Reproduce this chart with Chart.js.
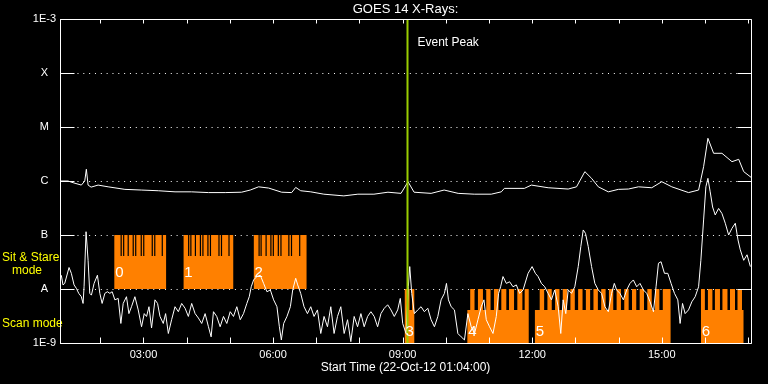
<!DOCTYPE html>
<html>
<head>
<meta charset="utf-8">
<script src="https://cdn.jsdelivr.net/npm/chart.js@4.4.0/dist/chart.umd.min.js"></script>
<style>
html,body{margin:0;padding:0;background:#000;overflow:hidden;}
#c{display:block;}
</style>
</head>
<body>
<canvas id="c" width="768" height="384"></canvas>
<script>
// ---------- DATA (hours of day, 22-Oct-2012; flux in W/m^2) ----------
const startHour = 1 + 4 / 60;            // 01:04:00
const endHour = startHour + 16;
const eventPeakHour = 9.113;

const yTickValues = [1e-9, 1e-8, 1e-7, 1e-6, 1e-5, 1e-4, 1e-3];
const yTickLabels = ['1E-9', 'A', 'B', 'C', 'M', 'X', '1E-3'];
const xTickHours = [2, 3, 4, 5, 6, 7, 8, 9, 10, 11, 12, 13, 14, 15, 16, 17];
const xLabelHours = [3, 6, 9, 12, 15];

// GOES 14 long channel (1-8 A)
const longChannel = [
 [1.067,1.0e-6],[1.252,1.0e-6],[1.369,0.93e-6],[1.561,0.84e-6],[1.640,1.0e-6],[1.677,1.65e-6],
 [1.717,0.84e-6],[1.787,0.77e-6],[1.949,0.84e-6],[2.181,0.78e-6],[2.569,0.70e-6],[2.948,0.68e-6],
 [3.343,0.66e-6],[3.730,0.63e-6],[4.109,0.63e-6],[4.504,0.61e-6],[4.892,0.61e-6],[5.270,0.62e-6],
 [5.472,0.68e-6],[5.665,0.78e-6],[5.897,0.74e-6],[6.199,0.62e-6],[6.431,0.61e-6],[6.524,0.76e-6],
 [6.640,0.66e-6],[6.873,0.63e-6],[7.175,0.57e-6],[7.639,0.53e-6],[7.964,0.57e-6],[8.336,0.57e-6],
 [8.661,0.62e-6],[8.963,0.59e-6],[9.125,0.97e-6],[9.265,0.62e-6],[9.660,0.59e-6],[9.961,0.68e-6],
 [10.286,0.59e-6],[10.658,0.57e-6],[11.053,0.57e-6],[11.285,0.63e-6],[11.355,0.73e-6],[11.819,0.73e-6],
 [11.982,0.84e-6],[12.370,0.75e-6],[12.834,0.71e-6],[13.027,0.78e-6],[13.220,1.49e-6],[13.375,1.12e-6],
 [13.531,0.78e-6],[13.763,0.63e-6],[13.996,0.70e-6],[14.228,0.71e-6],[14.460,0.78e-6],[14.769,0.75e-6],
 [15.001,0.97e-6],[15.233,0.78e-6],[15.621,0.61e-6],[15.853,0.68e-6],[15.969,1.84e-6],[16.069,6.18e-6],
 [16.201,3.26e-6],[16.394,3.26e-6],[16.626,2.28e-6],[16.782,2.52e-6],[16.898,1.49e-6],[17.068,1.17e-6]
];

// GOES 14 short channel (0.5-4 A)
const shortChannel = [
 [1.097,1.8e-8],[1.136,1.19e-8],[1.176,1.27e-8],[1.276,2.5e-8],[1.329,1.95e-8],[1.392,1.19e-8],
 [1.445,1.03e-8],[1.501,8.3e-9],[1.561,7.2e-9],[1.601,5.4e-9],[1.624,1.10e-8],[1.670,1.15e-7],
 [1.717,3.4e-8],[1.756,8.3e-9],[1.794,7.7e-9],[1.856,1.27e-8],[1.933,1.8e-8],[1.989,8.3e-9],
 [2.042,5.4e-9],[2.105,8.3e-9],[2.165,8.9e-9],[2.221,8.3e-9],[2.274,8.9e-9],[2.337,6.3e-9],
 [2.414,6.7e-9],[2.476,2.3e-9],[2.530,5.4e-9],[2.606,7.2e-9],[2.662,3.5e-9],[2.722,4.7e-9],
 [2.801,7.2e-9],[2.878,4.1e-9],[2.955,2.0e-9],[3.017,3.5e-9],[3.071,3.1e-9],[3.127,4.7e-9],
 [3.187,1.9e-9],[3.266,6.3e-9],[3.326,5.4e-9],[3.382,3.1e-9],[3.458,2.3e-9],[3.512,3.5e-9],
 [3.575,1.5e-9],[3.651,2.7e-9],[3.730,4.7e-9],[3.807,3.8e-9],[3.884,5.4e-9],[3.963,4.4e-9],
 [4.039,3.1e-9],[4.116,5.4e-9],[4.195,3.5e-9],[4.271,2.9e-9],[4.348,2.3e-9],[4.427,3.5e-9],
 [4.504,2.0e-9],[4.566,1.3e-9],[4.620,3.8e-9],[4.696,3.1e-9],[4.775,2.0e-9],[4.852,3.1e-9],
 [4.929,2.3e-9],[5.008,3.8e-9],[5.084,3.1e-9],[5.161,4.7e-9],[5.240,2.7e-9],[5.316,3.5e-9],
 [5.393,5.4e-9],[5.449,7.2e-9],[5.495,1.10e-8],[5.549,1.47e-8],[5.625,1.7e-8],[5.704,1.8e-8],
 [5.781,1.27e-8],[5.858,8.9e-9],[5.937,9.6e-9],[6.013,6.3e-9],[6.090,4.7e-9],[6.146,2.0e-9],
 [6.192,1.14e-9],[6.246,2.3e-9],[6.322,3.1e-9],[6.401,4.7e-9],[6.455,9.6e-9],[6.524,1.58e-8],
 [6.571,1.19e-8],[6.640,8.3e-9],[6.717,4.7e-9],[6.796,3.5e-9],[6.873,4.7e-9],[6.949,3.1e-9],
 [7.028,4.1e-9],[7.105,1.5e-9],[7.181,3.1e-9],[7.260,2.0e-9],[7.337,4.7e-9],[7.413,1.5e-9],
 [7.492,3.1e-9],[7.569,4.7e-9],[7.646,1.5e-9],[7.725,2.7e-9],[7.801,1.06e-9],[7.878,3.1e-9],
 [7.957,2.0e-9],[8.034,3.5e-9],[8.110,2.0e-9],[8.189,3.1e-9],[8.266,3.8e-9],[8.342,3.1e-9],
 [8.421,2.0e-9],[8.498,3.5e-9],[8.575,4.4e-9],[8.654,5.1e-9],[8.730,4.1e-9],[8.807,3.1e-9],
 [8.886,4.1e-9],[8.946,6.7e-9],[9.002,2.3e-9],[9.079,1.5e-9],[9.132,1.10e-8],[9.165,2.6e-8],
 [9.211,8.3e-9],[9.272,3.5e-9],[9.350,4.1e-9],[9.427,4.7e-9],[9.504,3.8e-9],[9.583,4.4e-9],
 [9.659,2.7e-9],[9.736,2.0e-9],[9.815,3.1e-9],[9.891,6.3e-9],[9.968,8.3e-9],[10.015,1.27e-8],
 [10.061,6.3e-9],[10.124,4.7e-9],[10.200,4.1e-9],[10.279,1.5e-9],[10.356,1.3e-9],[10.432,1.14e-9],
 [10.511,3.5e-9],[10.588,2.0e-9],[10.665,1.5e-9],[10.744,2.7e-9],[10.820,4.7e-9],[10.883,6.3e-9],
 [10.937,2.7e-9],[11.013,2.0e-9],[11.092,1.5e-9],[11.169,3.1e-9],[11.222,8.3e-9],[11.269,1.10e-8],
 [11.324,1.7e-8],[11.401,1.27e-8],[11.478,1.36e-8],[11.556,1.10e-8],[11.633,1.19e-8],[11.710,8.3e-9],
 [11.789,9.6e-9],[11.905,1.95e-8],[11.998,2.6e-8],[12.074,1.95e-8],[12.137,1.7e-8],[12.214,1.27e-8],
 [12.290,1.10e-8],[12.369,8.3e-9],[12.446,6.3e-9],[12.523,9.6e-9],[12.602,4.7e-9],[12.662,1.5e-9],
 [12.717,6.3e-9],[12.778,3.5e-9],[12.834,9.6e-9],[12.910,8.3e-9],[12.987,1.10e-8],[13.066,2.6e-8],
 [13.126,6.1e-8],[13.182,1.24e-7],[13.235,1.07e-7],[13.298,6.1e-8],[13.375,2.6e-8],[13.451,1.27e-8],
 [13.530,9.6e-9],[13.607,8.3e-9],[13.684,4.7e-9],[13.763,3.8e-9],[13.839,8.3e-9],[13.902,1.27e-8],
 [13.955,9.6e-9],[14.032,8.3e-9],[14.111,6.3e-9],[14.188,9.6e-9],[14.264,1.27e-8],[14.343,1.47e-8],
 [14.420,1.10e-8],[14.496,1.27e-8],[14.575,9.6e-9],[14.652,8.3e-9],[14.729,5.8e-9],[14.808,3.8e-9],
 [14.868,1.10e-8],[14.924,3.0e-8],[14.984,3.2e-8],[15.063,1.95e-8],[15.140,1.95e-8],[15.216,1.27e-8],
 [15.295,8.3e-9],[15.372,6.3e-9],[15.425,2.3e-9],[15.481,5.4e-9],[15.541,3.5e-9],[15.620,4.1e-9],
 [15.697,5.8e-9],[15.774,7.2e-9],[15.853,1.10e-8],[15.906,3.4e-8],[15.969,1.9e-7],[16.022,7.8e-7],
 [16.069,1.12e-6],[16.122,6.3e-7],[16.178,3.3e-7],[16.238,2.35e-7],[16.317,3.1e-7],[16.394,2.5e-7],
 [16.471,1.65e-7],[16.549,1.0e-7],[16.626,1.33e-7],[16.703,1.65e-7],[16.766,8.1e-8],[16.819,5.3e-8],
 [16.898,3.4e-8],[16.975,4.3e-8],[17.052,2.6e-8]
];

// Observing blocks (sit & stare / scan), numbered 0..6
const sitStareBlocks = [[2.321, 3.528], [3.923, 5.084], [5.549, 6.780]];
const sitStareNotches = [
 [2.483, 2.541, 2.646, 2.762, 2.820, 2.948, 3.006, 3.203, 3.261, 3.435],
 [4.046, 4.097, 4.202, 4.318, 4.376, 4.492, 4.550, 4.748, 4.806, 4.980],
 [5.677, 5.723, 5.839, 5.950, 6.006, 6.122, 6.183, 6.366, 6.427, 6.617]
];
const sitStareLevels = [1e-8, 4.1e-8, 1e-7];   // base, notch depth, top

const scanBlocks = [[9.044, 9.276], [10.495, 11.923], [12.058, 15.209], [15.906, 16.898]];
const scanTeeth = [
 [[9.044, 9.160], [9.218, 9.276]],
 [[10.565, 10.665], [10.744, 10.860], [10.936, 11.036], [11.115, 11.222], [11.285, 11.401],
  [11.463, 11.580], [11.656, 11.773], [11.826, 11.923]],
 [[12.174, 12.277], [12.353, 12.453], [12.530, 12.632], [12.708, 12.808], [12.885, 12.987],
  [13.064, 13.166], [13.243, 13.342], [13.419, 13.521], [13.598, 13.700], [13.777, 13.877],
  [13.955, 14.055], [14.132, 14.234], [14.311, 14.410], [14.489, 14.589], [14.666, 14.768],
  [14.845, 14.945], [15.024, 15.209]],
 [[15.906, 15.999], [16.069, 16.173], [16.231, 16.348], [16.405, 16.522], [16.580, 16.696],
  [16.754, 16.858]]
];
const scanLevels = [1e-9, 4.1e-9, 1e-8];        // base, gap depth, top
const blockLabels = ['0', '1', '2', '3', '4', '5', '6'];

// ---------- CHART ----------
const FONT = "'Liberation Sans', Arial, sans-serif";
const ORANGE = '#ff8000';
Chart.defaults.font.family = FONT;
Chart.defaults.color = '#ffffff';

const datasets = [];
datasets.push({
  label: 'Event Peak', type: 'line',
  data: [{x: eventPeakHour, y: yTickValues[0]}, {x: eventPeakHour, y: yTickValues[yTickValues.length - 1]}],
  borderColor: '#99cc00', borderWidth: 2, pointRadius: 0, order: 0
});
datasets.push({
  label: '1-8 A', data: longChannel.map(([t, v]) => ({x: t, y: v})),
  borderColor: '#ffffff', borderWidth: 1, pointRadius: 0, order: 1
});
datasets.push({
  label: '0.5-4 A', data: shortChannel.map(([t, v]) => ({x: t, y: v})),
  borderColor: '#ffffff', borderWidth: 1, pointRadius: 0, order: 1
});
const notchData = [];
sitStareNotches.flat().forEach(t => {
  notchData.push({x: t, y: sitStareLevels[2]}, {x: t, y: sitStareLevels[1]}, {x: t, y: null});
});
datasets.push({
  label: 'notches', data: notchData, borderColor: '#000000', borderWidth: 1.2,
  pointRadius: 0, spanGaps: false, order: 2
});
sitStareBlocks.forEach(([s, e]) => {
  datasets.push({
    label: 'sit', data: [{x: s, y: sitStareLevels[2]}, {x: e, y: sitStareLevels[2]}],
    fill: {value: sitStareLevels[0]}, backgroundColor: ORANGE,
    borderColor: 'rgba(0,0,0,0)', borderWidth: 0, pointRadius: 0, order: 3
  });
});
scanBlocks.forEach(([s, e], i) => {
  const pts = [{x: s, y: scanLevels[1]}];
  scanTeeth[i].forEach(([a, b]) => { pts.push({x: a, y: scanLevels[2]}, {x: b, y: scanLevels[1]}); });
  if (pts[pts.length - 1].x < e) pts.push({x: e, y: scanLevels[1]});
  datasets.push({
    label: 'scan', data: pts, stepped: 'before',
    fill: {value: scanLevels[0]}, backgroundColor: ORANGE,
    borderColor: 'rgba(0,0,0,0)', borderWidth: 0, pointRadius: 0, order: 3
  });
});

const decor = {
  id: 'decor',
  afterDatasetsDraw(chart) {
    const {ctx, chartArea: a, scales: {x, y}} = chart;
    ctx.save();
    // block numbers
    ctx.fillStyle = '#ffffff';
    ctx.font = '15px ' + FONT;
    ctx.textAlign = 'left';
    ctx.textBaseline = 'middle';
    sitStareBlocks.forEach(([s], i) => {
      ctx.fillText(blockLabels[i], x.getPixelForValue(s) + 1, y.getPixelForValue(2.0e-8));
    });
    scanBlocks.forEach(([s], i) => {
      ctx.fillText(blockLabels[i + sitStareBlocks.length], x.getPixelForValue(s) + 1, y.getPixelForValue(1.6e-9));
    });
    // Event peak label
    ctx.font = '12px ' + FONT;
    ctx.fillText('Event Peak', x.getPixelForValue(eventPeakHour) + 10, a.top + 24);
    // mode labels
    ctx.fillStyle = '#ffff00';
    ctx.fillText('Sit & Stare', 2, y.getPixelForValue(3.75e-8));
    ctx.fillText('mode', 12, y.getPixelForValue(2.15e-8));
    ctx.fillText('Scan mode', 2, y.getPixelForValue(2.3e-9));
    // frame and inner ticks
    ctx.strokeStyle = '#ffffff';
    ctx.lineWidth = 1;
    const L = Math.round(a.left) + 0.5, R = Math.round(a.right) + 0.5;
    const T = Math.round(a.top) + 0.5, B = Math.round(a.bottom) + 0.5;
    ctx.beginPath();
    ctx.rect(L, T, R - L, B - T);
    yTickValues.forEach(v => {
      const py = Math.round(y.getPixelForValue(v)) + 0.5;
      ctx.moveTo(L, py); ctx.lineTo(L + 14, py);
      ctx.moveTo(R - 14, py); ctx.lineTo(R, py);
    });
    xTickHours.forEach(h => {
      const px = Math.round(x.getPixelForValue(h)) + 0.5;
      ctx.moveTo(px, B); ctx.lineTo(px, B - 6);
      ctx.moveTo(px, T); ctx.lineTo(px, T + 4);
    });
    ctx.stroke();
    ctx.restore();
  }
};

new Chart(document.getElementById('c'), {
  type: 'line',
  data: {datasets},
  options: {
    responsive: false,
    animation: false,
    events: [],
    devicePixelRatio: 1,
    layout: {padding: {left: 0, right: 17, top: 0, bottom: 0}},
    plugins: {
      legend: {display: false},
      tooltip: {enabled: false},
      title: {
        display: true, text: 'GOES 14 X-Rays:', color: '#ffffff', fullSize: false,
        font: {size: 13, family: FONT, weight: 'normal', lineHeight: 1.154},
        padding: {top: 2, bottom: 2}
      }
    },
    scales: {
      x: {
        type: 'linear', min: startHour, max: endHour,
        afterBuildTicks: s => { s.ticks = xTickHours.map(h => ({value: h})); },
        afterFit: s => { s.height = 41; },
        grid: {display: false, drawTicks: false},
        border: {display: false},
        ticks: {
          autoSkip: false, maxRotation: 0, padding: 5, color: '#ffffff',
          font: {size: 11, family: FONT},
          callback: v => xLabelHours.includes(v) ? String(v).padStart(2, '0') + ':00' : ''
        },
        title: {
          display: true, text: 'Start Time (22-Oct-12 01:04:00)', color: '#ffffff',
          font: {size: 12, family: FONT, lineHeight: 1.2}, padding: {top: 0, bottom: 9}
        }
      },
      y: {
        type: 'logarithmic', min: yTickValues[0], max: yTickValues[yTickValues.length - 1],
        afterBuildTicks: s => { s.ticks = yTickValues.map(v => ({value: v})); },
        afterFit: s => { s.width = 60; },
        grid: {color: '#ffffff', lineWidth: 1, drawTicks: false},
        border: {display: false, dash: [1, 4.83]},
        ticks: {
          padding: 4, crossAlign: 'center', color: '#ffffff',
          font: {size: 11, family: FONT},
          callback: (v, i) => yTickLabels[i]
        }
      }
    }
  },
  plugins: [decor]
});
</script>
</body>
</html>
